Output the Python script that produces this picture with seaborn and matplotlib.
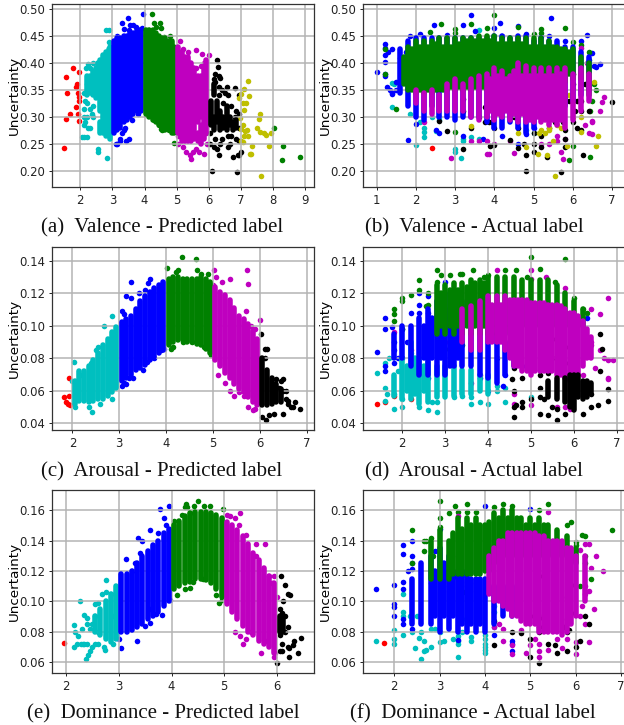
import pandas as pd
import matplotlib
matplotlib.use("Agg")
import matplotlib.pyplot as plt
import seaborn as sns

# The solid regions are read as (x, low, high) columns of overlapping points,
# the points that stand apart as (x, y) pairs.

# (a) Valence - Predicted label
a_red_pts = [(1.5,.243),(1.55,.374),(1.6,.345),(1.57,.296),(1.67,.305),(1.77,.391),(1.86,.318),(1.88,.356),(1.9,.36),(1.92,.305),(1.93,.345),(1.95,.337),(1.97,.383),(1.97,.292),(1.97,.33)]
a_cyan_cols = [(2.2,.34,.375),(2.3,.345,.375),(2.4,.34,.385),(2.5,.335,.39),(2.55,.34,.40),(2.6,.31,.405),(2.6,.27,.29),(2.7,.27,.415),(2.8,.265,.42),(2.88,.265,.425),(2.92,.26,.43)]
a_cyan_pts = [(2.8,.46),(2.88,.46),(2.88,.439),(2.82,.224),(2.56,.24),(2.56,.235),(2.05,.263),(2.13,.262),(2.2,.262),(2.18,.39),(2.25,.398),(2.3,.39),(2.4,.4),(2.1,.345),(2.15,.33),(2.12,.315),(2.1,.30),(2.15,.29),(2.2,.3),(2.12,.285),(2.25,.28),(2.3,.28),(2.3,.315),(2.35,.305),(2.4,.3),(2.4,.32),(2.2,.36),(2.2,.325)]
a_blue_cols = [(3.05,.27,.44),(3.15,.275,.445),(3.25,.28,.445),(3.35,.29,.45),(3.45,.295,.45),(3.55,.30,.455),(3.65,.305,.455),(3.75,.31,.46),(3.85,.31,.46),(3.9,.31,.46)]
a_blue_pts = [(3.3,.474),(3.48,.482),(3.35,.463),(3.55,.47),(3.65,.47),(3.72,.467),(3.5,.46),(3.95,.49),(3.93,.464),(3.15,.45),(3.35,.275),(3.25,.26),(3.25,.255),(3.42,.255),(3.5,.26),(3.1,.25),(3.15,.25),(3.4,.28),(3.6,.295),(3.8,.305),(3.3,.27)]
a_green_cols = [(4.05,.305,.46),(4.15,.30,.46),(4.25,.295,.46),(4.35,.29,.455),(4.45,.285,.45),(4.55,.28,.445),(4.65,.275,.445),(4.75,.275,.44),(4.85,.27,.44),(4.9,.27,.43)]
a_green_pts = [(4.22,.49),(4.3,.473),(4.47,.473),(4.52,.465),(4.35,.467),(4.15,.46),(4.9,.252),(4.5,.278),(4.55,.275),(4.3,.295),(4.45,.285),(4.75,.275),(4.85,.275),(4.8,.45),(4.6,.447),(8.03,.28),(8.32,.246),(8.27,.22),(8.85,.226)]
a_magenta_cols = [(5.05,.27,.43),(5.15,.255,.42),(5.25,.255,.41),(5.35,.255,.41),(5.45,.255,.40),(5.55,.26,.39),(5.65,.29,.375),(5.65,.255,.27),(5.75,.30,.375),(5.75,.25,.285),(5.85,.26,.39),(5.92,.27,.405)]
a_magenta_pts = [(5.1,.44),(5.2,.425),(5.35,.42),(5.6,.423),(5.8,.417),(5.05,.265),(5.05,.25),(5.2,.245),(5.3,.235),(5.4,.23),(5.45,.222),(5.5,.235),(5.6,.24),(5.7,.235),(5.85,.232),(5.9,.27),(5.95,.25),(6.0,.415),(5.6,.39),(5.75,.395),(5.85,.40)]
a_black_cols = [(6.07,.285,.33),(6.15,.275,.30),(6.15,.34,.36),(6.25,.29,.33),(6.35,.275,.31),(6.45,.28,.30),(6.55,.275,.32),(6.65,.285,.30),(6.75,.275,.29),(6.85,.28,.295)]
a_black_pts = [(6.25,.405),(6.27,.392),(6.2,.38),(6.3,.375),(6.35,.372),(6.15,.37),(6.2,.365),(6.55,.355),(6.8,.354),(6.6,.34),(6.3,.355),(6.4,.35),(6.5,.345),(6.95,.34),(6.1,.20),(6.88,.198),(6.9,.23),(6.95,.23),(7.0,.236),(6.75,.225),(6.32,.23),(6.25,.24),(6.15,.245),(6.05,.25),(6.6,.245),(6.65,.25),(6.4,.26),(6.6,.265),(6.85,.26),(6.95,.255),(6.8,.3),(6.95,.305),(6.35,.25),(6.05,.27),(6.2,.26),(6.45,.325),(6.7,.32),(6.85,.31),(6.95,.28),(6.3,.34),(6.7,.265)]
a_yellow_pts = [(7.22,.366),(7.1,.352),(7.25,.338),(7.0,.342),(6.95,.335),(7.05,.325),(7.15,.326),(7.1,.312),(6.98,.298),(7.05,.285),(7.0,.278),(7.12,.273),(7.08,.265),(7.2,.275),(7.22,.265),(7.0,.255),(7.05,.253),(7.35,.247),(7.3,.231),(7.27,.231),(7.62,.19),(7.5,.28),(7.55,.297),(7.58,.306),(7.58,.272),(7.7,.27),(7.77,.267),(7.92,.27),(7.88,.247)]

# (b) Valence - Actual label
b_red_pts = [(2.4,.242)]
b_cyan_pts = [(1.4,.318),(1.4,.362),(1.45,.36),(1.85,.305),(2.0,.248),(2.2,.262),(2.2,.272),(2.2,.28),(2.1,.29),(2.6,.295),(3.0,.24),(3.0,.235),(3.15,.224),(3.2,.255),(3.2,.26),(3.4,.263),(3.6,.46),(2.5,.274),(3.6,.26),(5.0,.27),(4.8,.275),(2.4,.30),(2.6,.30)]
b_blue_cols = [(1.6,.345,.425),(1.8,.32,.44),(2.0,.30,.445),(2.2,.295,.445),(2.4,.32,.445),(2.6,.30,.445),(2.8,.30,.445),(3.0,.295,.445),(3.2,.30,.445),(3.4,.30,.445),(3.6,.30,.445),(3.8,.29,.445),(4.0,.28,.45),(4.2,.28,.45),(4.4,.29,.445),(4.6,.28,.45),(4.8,.27,.45),(5.0,.28,.44),(5.2,.30,.445),(5.4,.30,.44),(5.6,.31,.44),(5.8,.32,.43),(6.0,.33,.43),(6.2,.34,.42),(6.4,.35,.41)]
b_blue_pts = [(1.0,.383),(1.2,.435),(1.2,.428),(1.2,.415),(1.2,.402),(1.2,.38),(1.2,.375),(1.25,.355),(1.3,.42),(1.4,.425),(1.35,.35),(1.4,.345),(1.4,.342),(1.5,.365),(1.5,.35),(1.8,.258),(1.75,.42),(1.85,.45),(2.0,.286),(2.1,.453),(2.45,.47),(2.8,.452),(3.2,.47),(3.4,.489),(3.5,.458),(4.0,.465),(4.15,.473),(4.2,.45),(4.6,.468),(4.8,.453),(5.45,.482),(5.2,.45),(5.4,.45),(5.8,.44),(6.2,.44),(6.35,.452),(6.5,.418),(6.55,.395),(6.7,.398),(6.6,.392),(2.6,.27),(2.5,.275),(3.2,.265),(3.7,.26),(4.2,.265),(4.6,.25),(4.8,.268),(5.0,.28)]
b_green_cols = [(1.7,.36,.41),(1.8,.35,.43),(1.9,.35,.425),(2.0,.345,.44),(2.1,.35,.43),(2.2,.345,.44),(2.3,.35,.43),(2.4,.345,.44),(2.5,.35,.435),(2.6,.35,.445),(2.7,.35,.43),(2.8,.35,.445),(2.9,.355,.43),(3.0,.35,.445),(3.1,.355,.435),(3.2,.35,.445),(3.3,.355,.44),(3.4,.35,.445),(3.5,.355,.44),(3.6,.355,.45),(3.7,.355,.44),(3.8,.35,.45),(3.9,.36,.44),(4.0,.35,.45),(4.1,.36,.435),(4.2,.355,.445),(4.3,.36,.435),(4.4,.355,.445),(4.5,.36,.435),(4.6,.355,.445),(4.7,.36,.435),(4.8,.355,.445),(4.9,.36,.43),(5.0,.355,.445),(5.1,.36,.43),(5.2,.355,.445),(5.3,.36,.43),(5.4,.355,.44),(5.5,.365,.43),(5.6,.36,.43),(5.7,.37,.425),(5.8,.365,.425),(5.9,.38,.42),(6.0,.37,.425),(6.2,.37,.41),(6.4,.34,.40)]
b_green_pts = [(1.2,.425),(1.2,.38),(1.5,.315),(1.6,.408),(1.65,.392),(2.35,.457),(2.65,.472),(3.0,.463),(3.0,.455),(3.4,.472),(3.8,.465),(4.0,.489),(4.0,.45),(4.6,.466),(5.0,.454),(5.2,.462),(5.2,.455),(5.8,.464),(6.0,.439),(6.2,.432),(6.4,.42),(6.55,.36),(6.6,.35),(6.5,.33),(6.45,.226),(5.9,.22),(6.0,.247),(3.0,.272),(6.45,.31),(6.4,.405)]
b_magenta_cols = [(2.0,.325,.35),(2.2,.31,.345),(2.4,.305,.35),(2.6,.31,.34),(2.8,.31,.36),(3.0,.31,.37),(3.2,.31,.36),(3.4,.30,.37),(3.6,.295,.375),(3.8,.30,.38),(3.9,.31,.37),(4.0,.295,.39),(4.1,.305,.375),(4.2,.30,.385),(4.3,.31,.37),(4.4,.295,.375),(4.5,.305,.385),(4.6,.29,.40),(4.7,.305,.375),(4.8,.29,.395),(4.9,.295,.375),(5.0,.29,.39),(5.1,.30,.375),(5.2,.29,.39),(5.3,.295,.375),(5.4,.285,.39),(5.5,.295,.375),(5.6,.285,.39),(5.7,.295,.38),(5.8,.28,.39),(6.0,.295,.38),(6.2,.31,.39),(6.4,.33,.38)]
b_magenta_pts = [(2.9,.224),(2.2,.29),(3.8,.232),(3.85,.232),(4.5,.233),(5.2,.25),(6.8,.337),(6.75,.328),(6.7,.31),(6.3,.285),(6.5,.293),(6.5,.29),(6.4,.27),(6.5,.268),(5.7,.235),(5.75,.222),(6.2,.428),(6.35,.40),(3.4,.255),(3.6,.255),(3.8,.255),(4.0,.25),(4.4,.255),(5.4,.25),(5.6,.265),(5.8,.26),(5.6,.255),(3.0,.43),(3.2,.415),(2.6,.42),(1.8,.385),(2.0,.37),(2.4,.39),(2.8,.40),(3.0,.40),(3.4,.39),(3.8,.41),(4.2,.41),(4.6,.42)]
b_black_pts = [(3.35,.405),(2.95,.372),(2.6,.293),(2.8,.273),(3.2,.241),(3.2,.31),(3.2,.333),(3.4,.28),(3.6,.3),(3.75,.318),(3.75,.29),(3.85,.29),(3.95,.29),(4.0,.316),(4.0,.28),(4.0,.248),(3.9,.247),(4.4,.258),(4.4,.33),(4.6,.242),(4.6,.28),(4.55,.31),(4.6,.35),(4.8,.2),(4.8,.23),(4.75,.25),(5.0,.27),(5.0,.235),(5.0,.25),(5.05,.32),(5.2,.245),(5.2,.265),(5.35,.225),(5.4,.28),(5.35,.32),(5.5,.35),(5.7,.198),(5.7,.36),(5.65,.37),(5.8,.245),(5.8,.26),(5.9,.33),(6.0,.38),(6.0,.36),(6.05,.31),(6.1,.33),(6.2,.33),(6.2,.31),(6.25,.23),(6.3,.36),(6.4,.31),(7.0,.327),(6.1,.28),(6.2,.275),(5.6,.3),(5.55,.29),(5.75,.29),(5.8,.275),(6.0,.29),(4.5,.3),(4.85,.33),(4.9,.35)]
b_yellow_pts = [(6.55,.365),(6.0,.352),(5.9,.34),(5.75,.345),(5.6,.325),(4.4,.322),(4.5,.325),(4.5,.342),(3.4,.283),(4.6,.27),(4.8,.245),(5.1,.231),(5.15,.27),(5.2,.275),(5.3,.27),(5.35,.23),(5.4,.28),(5.5,.255),(5.55,.19),(5.6,.285),(5.7,.28),(5.7,.3),(6.0,.3),(6.2,.3),(6.2,.272),(5.85,.247),(6.6,.247),(6.65,.265),(5.4,.275)]

# (c) Arousal - Predicted label
c_red_pts = [(1.82,.056),(1.87,.053),(1.9,.052),(1.94,.0515),(1.93,.057),(1.93,.068)]
c_cyan_cols = [(2.05,.052,.066),(2.15,.054,.072),(2.25,.054,.072),(2.35,.053,.075),(2.45,.054,.079),(2.55,.055,.083),(2.65,.055,.088),(2.75,.057,.092),(2.85,.059,.096),(2.94,.062,.099)]
c_cyan_pts = [(2.85,.106),(2.68,.1),(2.5,.085),(2.55,.087),(2.4,.077),(2.03,.078),(2.0,.066),(2.05,.05),(2.42,.047),(2.35,.05),(2.1,.065),(2.2,.07),(2.6,.052),(2.85,.055)]
c_blue_cols = [(3.05,.066,.102),(3.15,.068,.104),(3.25,.07,.106),(3.35,.073,.11),(3.45,.074,.115),(3.55,.076,.118),(3.65,.079,.121),(3.75,.081,.123),(3.85,.083,.125),(3.94,.085,.127)]
c_blue_pts = [(3.25,.127),(3.15,.118),(3.25,.117),(3.42,.12),(3.55,.122),(3.62,.126),(3.65,.129),(3.05,.109),(3.1,.107),(3.1,.065),(3.15,.064),(3.2,.068),(3.3,.068),(3.05,.063),(3.5,.073),(3.6,.078),(3.65,.08),(3.75,.08),(3.95,.086),(3.9,.085)]
c_green_cols = [(4.05,.088,.129),(4.15,.09,.13),(4.25,.091,.13),(4.35,.091,.129),(4.45,.09,.129),(4.55,.09,.129),(4.65,.089,.129),(4.75,.088,.13),(4.85,.086,.129),(4.94,.083,.127)]
c_green_pts = [(4.02,.1355),(4.33,.142),(4.63,.141),(4.25,.134),(4.2,.133),(4.65,.134),(4.75,.132),(4.9,.132),(4.15,.087),(4.1,.086),(4.35,.09),(4.55,.09),(4.8,.087),(4.95,.082)]
c_magenta_cols = [(5.05,.079,.124),(5.15,.075,.121),(5.25,.071,.119),(5.35,.068,.116),(5.45,.064,.111),(5.55,.061,.106),(5.65,.059,.104),(5.75,.056,.101),(5.85,.053,.097),(5.94,.051,.092)]
c_magenta_pts = [(5.02,.1345),(5.07,.13),(5.2,.127),(5.36,.129),(5.73,.1345),(5.75,.1255),(5.0,.125),(6.0,.1035),(5.7,.109),(5.8,.1),(5.9,.098),(5.1,.07),(5.25,.065),(5.35,.06),(5.45,.0565),(5.55,.059),(5.75,.05),(5.85,.048),(5.9,.049),(5.65,.057)]
c_black_cols = [(6.05,.051,.08),(6.15,.051,.073),(6.25,.052,.068),(6.35,.053,.064),(6.45,.053,.061)]
c_black_pts = [(6.03,.095),(6.1,.086),(6.15,.086),(6.1,.08),(6.05,.044),(6.12,.042),(6.2,.045),(6.3,.046),(6.5,.046),(6.5,.06),(6.55,.06),(6.45,.066),(6.5,.067),(6.4,.062),(6.35,.067),(6.65,.05),(6.7,.05),(6.75,.053),(6.85,.049),(6.55,.055),(6.6,.054),(6.6,.052)]

# (d) Arousal - Actual label
d_red_pts = [(1.4,.052),(1.6,.053),(1.8,.057),(2.2,.055)]
d_cyan_cols = [(1.8,.057,.07),(2.0,.055,.08),(2.1,.06,.075),(2.2,.055,.09),(2.3,.058,.08),(2.4,.052,.08),(2.5,.06,.075),(2.6,.053,.078),(2.8,.056,.075),(3.0,.056,.075),(3.2,.057,.075),(3.4,.058,.073),(3.6,.058,.073),(3.8,.06,.07),(4.0,.058,.07)]
d_cyan_pts = [(1.4,.071),(1.6,.077),(1.6,.062),(1.6,.054),(1.65,.058),(1.8,.049),(1.8,.058),(1.9,.072),(2,.055),(2,.05),(2.2,.08),(2.2,.083),(2.4,.05),(2.6,.048),(2.8,.047),(2.7,.053),(2.8,.053),(3.2,.056),(3.6,.052),(3.6,.056),(3.8,.053),(4,.052),(4.4,.053),(4.2,.063),(4.4,.062),(5,.056),(1.7,.08),(4.2,.06),(3.4,.0565)]
d_blue_cols = [(1.8,.08,.095),(2.0,.08,.10),(2.2,.075,.10),(2.4,.07,.105),(2.5,.08,.10),(2.6,.07,.11),(2.7,.08,.105),(2.8,.07,.115),(2.9,.08,.11),(3.0,.07,.12),(3.1,.075,.11),(3.2,.075,.115),(3.3,.08,.11),(3.4,.075,.115),(3.6,.075,.115),(3.8,.07,.11),(4.0,.068,.10),(4.2,.065,.095),(4.4,.07,.09),(4.6,.075,.09)]
d_blue_pts = [(1.6,.105),(1.6,.098),(1.4,.084),(1.75,.099),(1.8,.09),(1.8,.085),(1.6,.075),(1.6,.072),(1.8,.077),(1.9,.08),(2,.098),(2,.08),(2.1,.09),(2.2,.108),(2.4,.12),(2.4,.113),(2.4,.108),(2.6,.118),(2.6,.108),(3.0,.127),(3.2,.122),(3.6,.12),(3.9,.125),(4.2,.08),(4.35,.063),(4.4,.07),(4.8,.075),(6.3,.105),(2.6,.068),(3.8,.068),(4.0,.06)]
d_green_cols = [(2.8,.095,.125),(2.9,.10,.12),(3.0,.095,.125),(3.1,.10,.122),(3.2,.095,.126),(3.3,.10,.122),(3.4,.095,.126),(3.5,.10,.124),(3.6,.095,.128),(3.7,.10,.126),(3.8,.095,.128),(3.9,.10,.126),(4.0,.095,.13),(4.2,.095,.13),(4.4,.095,.13),(4.6,.095,.13),(4.8,.10,.128),(5.0,.10,.128),(5.2,.10,.128),(5.4,.10,.128),(5.6,.10,.125),(5.8,.10,.12),(6.0,.10,.115),(6.2,.10,.11)]
d_green_pts = [(1.8,.11),(1.8,.107),(1.8,.103),(2,.117),(2,.115),(2.2,.119),(2.4,.128),(2.4,.122),(2.6,.12),(2.6,.113),(2.55,.112),(2.8,.134),(2.8,.127),(2.9,.131),(3.1,.131),(3.35,.132),(3.4,.132),(3.65,.134),(3.9,.13),(4,.131),(4.4,.134),(4.65,.134),(5,.142),(5.2,.135),(5.8,.141),(4.9,.13),(5.55,.127),(6,.117),(6.2,.11),(6.3,.108),(2.0,.098),(2.6,.095),(3.0,.086),(3.4,.088)]
d_magenta_cols = [(3.4,.09,.11),(3.6,.085,.112),(3.8,.085,.115),(4.0,.09,.118),(4.1,.09,.113),(4.2,.09,.118),(4.3,.09,.113),(4.4,.085,.118),(4.5,.08,.116),(4.6,.075,.116),(4.7,.075,.116),(4.8,.072,.116),(4.9,.072,.116),(5.0,.07,.114),(5.1,.072,.114),(5.2,.072,.114),(5.3,.072,.114),(5.4,.072,.113),(5.5,.072,.113),(5.6,.07,.113),(5.7,.07,.112),(5.8,.068,.11),(5.9,.066,.108),(6.0,.065,.108),(6.1,.07,.106),(6.2,.075,.103),(6.3,.08,.098),(6.4,.08,.093)]
d_magenta_pts = [(6.8,.117),(6.6,.107),(6.4,.11),(4.2,.134),(5,.134),(5,.129),(5.35,.13),(5.8,.123),(1.8,.096),(2.2,.085),(3.0,.074),(3.6,.065),(3.8,.07),(3.0,.09),(3.2,.088),(3.2,.10),(3.2,.11),(3.0,.105),(4.6,.058),(4.6,.052),(5,.051),(5.8,.05),(5.9,.049),(5.6,.05),(6.8,.079),(6.9,.079),(6.7,.08),(6.6,.085),(6.8,.068),(6.8,.067),(6.5,.074),(6.3,.063),(6.2,.07),(6.4,.09),(6.4,.088)]
d_black_cols = [(5.4,.056,.066),(5.6,.055,.068),(5.8,.053,.068),(5.9,.05,.07),(6.0,.048,.07),(6.1,.056,.07),(6.2,.055,.066),(6.3,.056,.066),(6.4,.059,.065)]
d_black_pts = [(6.6,.095),(5.5,.092),(5.8,.087),(6.0,.086),(6.65,.086),(5.3,.083),(5.5,.08),(5.6,.081),(5.65,.078),(5.8,.077),(6.0,.08),(5.0,.077),(5.0,.073),(4.6,.074),(4.55,.067),(4.6,.06),(4.8,.068),(4.6,.05),(4.65,.051),(4.6,.044),(4.8,.05),(5.2,.046),(5.4,.045),(5.6,.042),(6.2,.046),(5.8,.046),(6.4,.05),(6.55,.051),(6.8,.054),(6.8,.061),(6.6,.072),(6.4,.058),(5.5,.05),(5.6,.049),(4.8,.053),(5.2,.056),(5.2,.062),(5.3,.055),(5.4,.071),(5.2,.07),(5.0,.055)]

# (e) Dominance - Predicted label
e_red_pts = [(1.96,.0725)]
e_cyan_cols = [(2.55,.08,.09),(2.65,.078,.095),(2.75,.075,.10),(2.85,.073,.105),(2.95,.075,.11)]
e_cyan_pts = [(2.27,.1),(2.15,.0845),(2.18,.08),(2.15,.07),(2.2,.072),(2.22,.077),(2.28,.072),(2.32,.072),(2.35,.0715),(2.4,.072),(2.37,.062),(2.42,.0645),(2.5,.07),(2.55,.072),(2.45,.067),(2.6,.0715),(2.73,.068),(2.72,.07),(2.35,.091),(2.4,.089),(2.45,.082),(2.55,.09),(2.55,.098),(2.6,.099),(2.68,.105),(2.75,.114),(2.85,.105),(2.75,.106),(2.9,.09),(2.9,.072),(2.97,.077),(2.3,.082),(2.4,.085),(2.5,.085),(2.6,.08)]
e_blue_cols = [(3.05,.08,.118),(3.15,.08,.118),(3.25,.081,.12),(3.35,.083,.125),(3.45,.085,.13),(3.55,.088,.133),(3.65,.09,.137),(3.75,.093,.14),(3.85,.097,.145),(3.95,.10,.148)]
e_blue_pts = [(3.05,.069),(3.0,.075),(3.35,.0735),(3.13,.128),(3.78,.161),(3.95,.163),(3.85,.155),(3.6,.147),(3.75,.145),(3.37,.142),(3.45,.14),(3.7,.0915),(3.6,.095),(3.82,.091),(3.6,.086),(3.5,.084),(3.97,.101),(3.4,.132),(3.3,.125),(3.25,.12),(3.9,.15)]
e_green_cols = [(4.05,.108,.15),(4.15,.11,.153),(4.25,.112,.156),(4.35,.113,.158),(4.45,.115,.159),(4.55,.115,.159),(4.65,.114,.159),(4.75,.112,.158),(4.85,.108,.157),(4.95,.103,.155)]
e_green_pts = [(4.25,.162),(4.28,.164),(4.3,.162),(4.42,.163),(4.5,.166),(4.62,.163),(4.72,.163),(4.98,.161),(4.05,.153),(4.2,.157),(4.35,.158),(4.1,.104),(4.25,.108),(4.35,.109),(4.4,.113),(4.6,.115),(4.9,.099),(4.85,.104),(4.95,.101)]
e_magenta_cols = [(5.05,.098,.152),(5.15,.093,.15),(5.25,.088,.147),(5.35,.084,.143),(5.45,.08,.138),(5.55,.078,.132),(5.65,.074,.127),(5.75,.072,.122),(5.85,.07,.117),(5.95,.066,.112)]
e_magenta_pts = [(5.3,.158),(5.1,.156),(5.2,.155),(5.27,.15),(5.05,.157),(5.42,.144),(5.6,.138),(5.77,.138),(5.6,.13),(5.85,.117),(5.95,.117),(5.9,.112),(5.2,.08),(5.3,.077),(5.35,.0715),(5.42,.075),(5.5,.08),(5.7,.066),(5.95,.063),(5.97,.066),(6.0,.103),(5.8,.074)]
e_black_cols = [(6.05,.08,.09),(6.12,.08,.09)]
e_black_pts = [(6.08,.117),(6.15,.111),(6.2,.105),(6.25,.104),(6.12,.1),(6.05,.095),(6.1,.092),(6.15,.09),(6.05,.067),(6.1,.072),(6.1,.067),(6.2,.07),(6.22,.069),(6.22,.063),(6.3,.071),(6.33,.074),(6.4,.066),(6.45,.0755),(6.0,.059),(6.2,.083),(6.05,.078),(6.15,.08)]

# (f) Dominance - Actual label
f_red_pts = [(1.78,.0725)]
f_cyan_pts = [(1.6,.0735),(2,.081),(2,.075),(2,.072),(2.2,.105),(2.2,.093),(2.2,.09),(2.2,.078),(2.4,.08),(2.45,.069),(2.55,.076),(2.6,.062),(2.65,.067),(2.7,.068),(2.8,.07),(2.65,.074),(2.35,.09),(2.5,.09),(3,.073),(3.1,.074),(3.3,.075),(3.4,.072),(3.4,.0635),(3.7,.074),(4,.078),(4,.072),(4,.068),(4,.066),(4,.075),(4,.07),(3.4,.077),(3.4,.074),(3.7,.0765),(3.5,.08),(4.2,.083),(4.2,.093),(4.2,.097),(2.8,.082),(2.9,.082),(2.6,.08),(3.0,.08),(3.5,.088),(3.6,.085)]
f_blue_cols = [(2.4,.085,.115),(2.6,.085,.125),(2.8,.085,.13),(2.9,.09,.12),(3.0,.08,.135),(3.1,.09,.125),(3.2,.082,.13),(3.3,.09,.12),(3.4,.08,.12),(3.5,.085,.12),(3.6,.08,.12),(3.7,.085,.115),(3.8,.08,.115),(3.9,.085,.115),(4.0,.08,.115),(4.2,.085,.11),(4.4,.09,.11),(4.6,.09,.11)]
f_blue_pts = [(1.6,.108),(2,.111),(2,.098),(2,.096),(2,.09),(2.2,.137),(2.2,.131),(2.2,.108),(2.2,.113),(2.3,.12),(2.2,.088),(2.2,.085),(2.4,.14),(2.4,.13),(2.4,.125),(2.4,.121),(2.4,.082),(3,.148),(4,.163),(5,.161),(2.9,.133),(4.6,.0735),(4.6,.067),(3.4,.0745),(4.2,.078),(4.6,.072)]
f_green_cols = [(2.8,.115,.14),(3.0,.115,.147),(3.2,.115,.14),(3.3,.118,.145),(3.4,.118,.155),(3.5,.118,.148),(3.6,.118,.155),(3.7,.118,.15),(3.8,.118,.155),(3.9,.118,.15),(4.0,.12,.15),(4.1,.12,.152),(4.2,.125,.158),(4.3,.125,.155),(4.4,.13,.16),(4.5,.13,.155),(4.6,.13,.16),(4.7,.13,.155),(4.8,.13,.155),(4.9,.13,.15),(5.0,.13,.155),(5.1,.13,.15),(5.2,.13,.155),(5.3,.13,.15),(5.4,.13,.15),(5.6,.13,.147),(5.8,.13,.143),(6.0,.125,.135)]
f_green_pts = [(2.4,.147),(2.4,.125),(2.65,.14),(2.7,.14),(2.65,.133),(2.8,.142),(2.85,.13),(2.8,.112),(3,.166),(3,.155),(3,.149),(3.2,.158),(3.35,.163),(3.6,.164),(3.6,.159),(3.4,.159),(3.8,.159),(4.2,.162),(4.4,.164),(4.6,.163),(5.4,.164),(5.2,.16),(6.8,.147),(6.15,.144),(6.2,.143),(6,.139),(6,.137),(6.2,.13),(6.2,.125),(6.35,.115),(6.1,.11),(3.2,.114),(3.3,.116),(5.9,.152),(5.8,.15),(3.55,.106)]
f_magenta_cols = [(4.1,.105,.13),(4.2,.10,.135),(4.3,.10,.14),(4.4,.097,.14),(4.5,.095,.145),(4.6,.09,.145),(4.7,.09,.145),(4.8,.087,.145),(4.9,.085,.145),(5.0,.085,.145),(5.1,.085,.145),(5.2,.08,.143),(5.3,.08,.143),(5.4,.08,.14),(5.5,.08,.14),(5.6,.08,.14),(5.7,.078,.14),(5.8,.08,.135),(5.9,.085,.135),(6.0,.09,.13),(6.2,.10,.13)]
f_magenta_pts = [(3.4,.156),(3.2,.128),(3.4,.13),(3.6,.113),(3.6,.11),(3.2,.11),(3.2,.107),(3.8,.12),(3.8,.112),(3.8,.107),(5.4,.159),(6.1,.134),(6.2,.138),(6.3,.138),(6.45,.13),(6.6,.12),(6.35,.122),(6.3,.107),(6.2,.11),(6.4,.095),(6.2,.085),(6.3,.073),(6,.065),(6,.073),(5.2,.063),(5.2,.067),(4.6,.065),(4.6,.071),(4.4,.074),(4.9,.066),(5.0,.071),(5.2,.072),(5.4,.068),(5.6,.075),(5.7,.069),(5.8,.075),(4.2,.083),(4.3,.085),(4.4,.082),(4.8,.081),(5.1,.075),(6.1,.09),(6.15,.097),(6.2,.105)]
f_black_pts = [(5.2,.117),(5.9,.111),(5.35,.104),(5.8,.103),(5.15,.10),(5.9,.092),(5,.09),(5.2,.089),(5.3,.091),(5.55,.089),(5.8,.088),(6.2,.09),(6.3,.085),(5.2,.083),(5.2,.08),(5.35,.082),(5.55,.084),(5.75,.083),(5.8,.08),(5.85,.081),(4.6,.08),(4.8,.079),(5,.075),(5.4,.072),(5.55,.071),(5,.063),(5.2,.059),(5.6,.066),(5.8,.067),(6,.07),(6.1,.074),(4.2,.087),(4.2,.071)]

x_ticks_a = [2, 3, 4, 5, 6, 7, 8, 9]
x_ticks_b = [1, 2, 3, 4, 5, 6, 7]
x_ticks_cdf = [2, 3, 4, 5, 6, 7]
x_ticks_e = [2, 3, 4, 5, 6]
y_ticks_val = [0.20, 0.25, 0.30, 0.35, 0.40, 0.45, 0.50]
y_ticks_aro = [0.04, 0.06, 0.08, 0.10, 0.12, 0.14]
y_ticks_dom = [0.06, 0.08, 0.10, 0.12, 0.14, 0.16]

COLORS = {"red": "r", "cyan": "c", "blue": "b", "green": "g", "magenta": "m", "black": "k", "yellow": "y"}
DOT = 4.0  # marker diameter in points

W, H = 624, 725


def draw_class(ax, color, cols, pts):
    # columns of overlapping points, then the loose points of the same class
    if cols:
        df = pd.DataFrame(cols, columns=["x", "lo", "hi"])
        ax.vlines(df["x"], df["lo"], df["hi"], colors=color, linewidth=DOT, capstyle="round")
    if pts:
        df = pd.DataFrame(pts, columns=["x", "y"])
        sns.scatterplot(data=df, x="x", y="y", color=color, s=DOT ** 2, linewidth=0, ax=ax)


panels = [
    dict(box=(52, 4, 314, 187), xlim=(1.12, 9.27), ylim=(0.1704, 0.5087), xt=x_ticks_a, yt=y_ticks_val,
         cap="(a)  Valence - Predicted label", cap_xy=(162, 228),
         data=[("red", [], a_red_pts), ("cyan", a_cyan_cols, a_cyan_pts), ("blue", a_blue_cols, a_blue_pts),
               ("green", a_green_cols, a_green_pts), ("magenta", a_magenta_cols, a_magenta_pts),
               ("black", a_black_cols, a_black_pts), ("yellow", [], a_yellow_pts)]),
    dict(box=(363, 4, 625, 187), xlim=(0.65, 7.33), ylim=(0.1704, 0.5087), xt=x_ticks_b, yt=y_ticks_val,
         cap="(b)  Valence - Actual label", cap_xy=(474, 228),
         data=[("red", [], b_red_pts), ("cyan", [], b_cyan_pts), ("blue", b_blue_cols, b_blue_pts),
               ("green", b_green_cols, b_green_pts), ("magenta", b_magenta_cols, b_magenta_pts),
               ("black", [], b_black_pts), ("yellow", [], b_yellow_pts)]),
    dict(box=(52, 247, 314, 430), xlim=(1.567, 7.15), ylim=(0.0359, 0.1484), xt=x_ticks_cdf, yt=y_ticks_aro,
         cap="(c)  Arousal - Predicted label", cap_xy=(162, 472),
         data=[("red", [], c_red_pts), ("cyan", c_cyan_cols, c_cyan_pts), ("blue", c_blue_cols, c_blue_pts),
               ("green", c_green_cols, c_green_pts), ("magenta", c_magenta_cols, c_magenta_pts),
               ("black", c_black_cols, c_black_pts)]),
    dict(box=(363, 247, 625, 430), xlim=(1.084, 7.19), ylim=(0.0359, 0.1484), xt=x_ticks_cdf, yt=y_ticks_aro,
         cap="(d)  Arousal - Actual label", cap_xy=(474, 472),
         data=[("red", [], d_red_pts), ("cyan", d_cyan_cols, d_cyan_pts), ("blue", d_blue_cols, d_blue_pts),
               ("green", d_green_cols, d_green_pts), ("magenta", d_magenta_cols, d_magenta_pts),
               ("black", d_black_cols, d_black_pts)]),
    dict(box=(52, 490, 314, 673), xlim=(1.735, 6.70), ylim=(0.0527, 0.1734), xt=x_ticks_e, yt=y_ticks_dom,
         cap="(e)  Dominance - Predicted label", cap_xy=(163, 714),
         data=[("red", [], e_red_pts), ("cyan", e_cyan_cols, e_cyan_pts), ("blue", e_blue_cols, e_blue_pts),
               ("green", e_green_cols, e_green_pts), ("magenta", e_magenta_cols, e_magenta_pts),
               ("black", e_black_cols, e_black_pts)]),
    dict(box=(363, 490, 625, 673), xlim=(1.31, 7.09), ylim=(0.0527, 0.1734), xt=x_ticks_cdf, yt=y_ticks_dom,
         cap="(f)  Dominance - Actual label", cap_xy=(473, 714),
         data=[("red", [], f_red_pts), ("cyan", [], f_cyan_pts), ("blue", f_blue_cols, f_blue_pts),
               ("green", f_green_cols, f_green_pts), ("magenta", f_magenta_cols, f_magenta_pts),
               ("black", [], f_black_pts)]),
]

fig = plt.figure(figsize=(W / 100, H / 100), dpi=100)

for p in panels:
    left, top, right, bottom = p["box"]
    ax = fig.add_axes([left / W, 1 - bottom / H, (right - left) / W, (bottom - top) / H])
    for name, cols, pts in p["data"]:
        draw_class(ax, COLORS[name], cols, pts)
    ax.set_xlim(*p["xlim"])
    ax.set_ylim(*p["ylim"])
    ax.set_xticks(p["xt"])
    ax.set_yticks(p["yt"])
    ax.set_yticklabels(["%.2f" % v for v in p["yt"]])
    ax.tick_params(labelsize=8.4, length=2.5, width=0.7, pad=2.5, colors="#222222")
    ax.grid(True, color="#b4b4b4", linewidth=1.1)
    ax.set_xlabel("")
    ax.set_ylabel("Uncertainty", fontsize=9.7)
    ax.yaxis.set_label_coords(-0.118, 0.5)
    for s in ax.spines.values():
        s.set_linewidth(0.9)
        s.set_color("#333333")
    fig.text(p["cap_xy"][0] / W, 1 - p["cap_xy"][1] / H, p["cap"], family="Liberation Serif",
             fontsize=15, ha="center", va="center", color="#111111")

fig.savefig("out.png", dpi=100)
